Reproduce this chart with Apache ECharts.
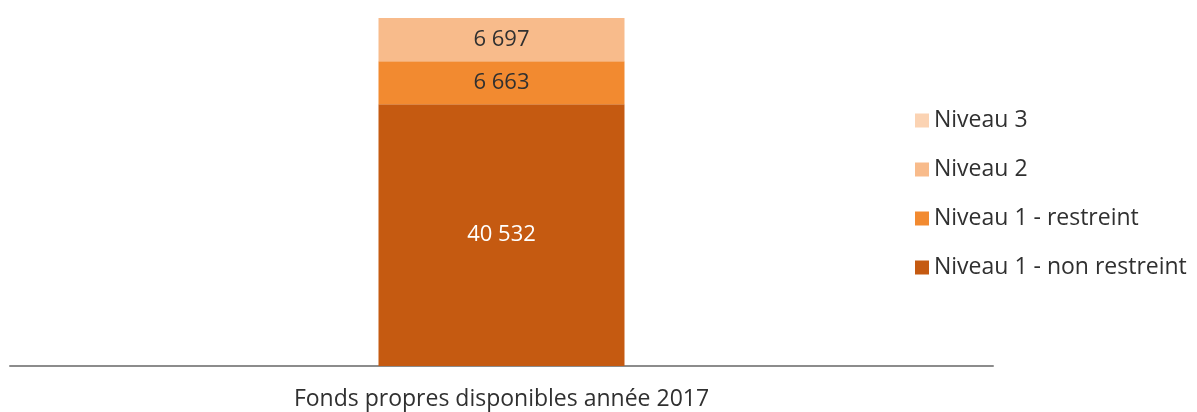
<!DOCTYPE html>
<html>
<head>
<meta charset="utf-8">
<script src="https://cdn.jsdelivr.net/npm/echarts@6/dist/echarts.min.js"></script>
<style>
  html, body { margin: 0; padding: 0; background: #fff; }
  #chart { width: 1197px; height: 412px; }
</style>
</head>
<body>
<div id="chart"></div>
<script>
// données
const categories = ['Fonds propres disponibles année 2017'];
const nonRestreint = [40532];
const restreint = [6663];
const niveau2 = [6697];
const niveau3 = [0];

const legendOrder = ['Niveau 3', 'Niveau 2', 'Niveau 1 - restreint', 'Niveau 1 - non restreint'];

function fmt(v) {
  return String(v).replace(/\B(?=(\d{3})+(?!\d))/g, ' ');
}

const chart = echarts.init(document.getElementById('chart'));
const font = '"Open Sans", "Noto Sans", sans-serif';
const textColor = '#303030';

function bar(name, data, color, labelColor) {
  return {
    name: name,
    type: 'bar',
    stack: 'total',
    barWidth: 246,
    data: data,
    itemStyle: { color: color },
    label: {
      show: data[0] > 0,
      position: 'inside',
      color: labelColor,
      fontFamily: font,
      fontSize: 22,
      formatter: p => fmt(p.value)
    }
  };
}

chart.setOption({
  animation: false,
  textStyle: { fontFamily: font },
  grid: { left: 10, right: 204, top: 18, bottom: 46 },
  legend: {
    orient: 'vertical',
    left: 910,
    top: 104,
    data: legendOrder,
    icon: 'rect',
    itemWidth: 14,
    itemHeight: 14,
    itemGap: 26,
    itemTextGap: 9,
    textStyle: { fontSize: 23, color: textColor, fontFamily: font }
  },
  xAxis: {
    type: 'category',
    data: categories,
    axisLine: { lineStyle: { color: '#8c8c8c', width: 2 } },
    axisTick: { show: false },
    axisLabel: { fontSize: 23, color: textColor, margin: 22, fontFamily: font }
  },
  yAxis: {
    type: 'value',
    min: 0,
    max: 53892,
    show: false,
    splitLine: { show: false }
  },
  series: [
    bar('Niveau 1 - non restreint', nonRestreint, '#c55a11', '#ffffff'),
    bar('Niveau 1 - restreint', restreint, '#f28a30', textColor),
    bar('Niveau 2', niveau2, '#f8bb8b', textColor),
    bar('Niveau 3', niveau3, '#fbd3b3', textColor)
  ]
});
</script>
</body>
</html>
